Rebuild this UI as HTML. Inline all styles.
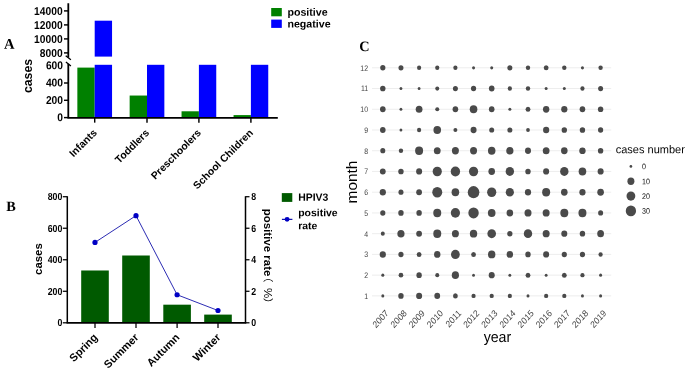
<!DOCTYPE html>
<html lang="en">
<head>
<meta charset="utf-8">
<title>HPIV3 cases figure</title>
<style>
html,body{margin:0;padding:0;background:#fff;}
body{width:685px;height:371px;overflow:hidden;}
svg{display:block;will-change:transform;}
text{font-family:"Liberation Sans", "Noto Sans CJK SC", sans-serif;fill:#000;}
.tk{font-size:11.4px;font-weight:bold;}
.tkb{font-size:10.2px;font-weight:bold;}
.xl{font-size:10.4px;font-weight:bold;}
.xlb{font-size:10.9px;font-weight:bold;}
.yl{font-size:12.8px;font-weight:bold;}
.ylb{font-size:10px;font-weight:bold;}
.lg{font-size:10.65px;font-weight:bold;}
.lgb{font-size:10.45px;font-weight:bold;}
.pl{font-family:"Liberation Serif", serif;font-size:14.6px;font-weight:bold;}
.plb{font-family:"Liberation Serif", serif;font-size:14.3px;font-weight:bold;}
.ct{font-size:8.0px;fill:#444;}
.ct2{font-size:8.1px;fill:#111;}
.cx{font-size:8.4px;fill:#444;}
.ca{font-size:15px;fill:#000;}
.cl{font-size:11.4px;fill:#000;}
</style>
</head>
<body>
<svg width="685" height="371" viewBox="0 0 685 371">
<rect width="685" height="371" fill="#fff"/>
<g id="panelA">
<rect x="77.35" y="67.60" width="17.35" height="50.00" fill="#008000"/>
<rect x="94.70" y="64.80" width="17.35" height="52.80" fill="#0000ff"/>
<rect x="129.65" y="95.54" width="17.35" height="22.06" fill="#008000"/>
<rect x="147.00" y="64.80" width="17.35" height="52.80" fill="#0000ff"/>
<rect x="181.55" y="111.29" width="17.35" height="6.31" fill="#008000"/>
<rect x="198.90" y="64.80" width="17.35" height="52.80" fill="#0000ff"/>
<rect x="233.55" y="115.09" width="17.35" height="2.51" fill="#008000"/>
<rect x="250.90" y="64.80" width="17.35" height="52.80" fill="#0000ff"/>
<rect x="94.70" y="20.70" width="17.35" height="35.90" fill="#0000ff"/>
<path d="M68.3 3.2V57.6 M68.3 63.8V117.85 M67.39999999999999 117.85H277.8" stroke="#000" stroke-width="1.8" fill="none"/>
<path d="M65.7 55.7L70.9 59.8 M65.9 61.9L70.9 66.0" stroke="#000" stroke-width="1.3" fill="none"/>
<path d="M64.00 10.90H68.3" stroke="#000" stroke-width="1.45"/>
<text transform="translate(62.60 15.10) rotate(0.03) scale(0.9 1.0)" text-anchor="end" class="tk">14000</text>
<path d="M64.00 24.90H68.3" stroke="#000" stroke-width="1.45"/>
<text transform="translate(62.60 29.10) rotate(0.03) scale(0.9 1.0)" text-anchor="end" class="tk">12000</text>
<path d="M64.00 38.90H68.3" stroke="#000" stroke-width="1.45"/>
<text transform="translate(62.60 43.10) rotate(0.03) scale(0.9 1.0)" text-anchor="end" class="tk">10000</text>
<path d="M64.00 52.90H68.3" stroke="#000" stroke-width="1.45"/>
<text transform="translate(62.60 57.10) rotate(0.03) scale(0.9 1.0)" text-anchor="end" class="tk">8000</text>
<text transform="translate(63.00 69.30) rotate(0.03) scale(0.9 1.0)" text-anchor="end" class="tk">600</text>
<path d="M64.00 83.00H68.3" stroke="#000" stroke-width="1.45"/>
<text transform="translate(63.00 86.60) rotate(0.03) scale(0.9 1.0)" text-anchor="end" class="tk">400</text>
<path d="M64.00 100.30H68.3" stroke="#000" stroke-width="1.45"/>
<text transform="translate(63.00 103.90) rotate(0.03) scale(0.9 1.0)" text-anchor="end" class="tk">200</text>
<path d="M64.00 117.60H68.3" stroke="#000" stroke-width="1.45"/>
<text transform="translate(63.00 121.20) rotate(0.03) scale(0.9 1.0)" text-anchor="end" class="tk">0</text>
<path d="M94.7 117.85V122.64999999999999" stroke="#000" stroke-width="1.45"/>
<path d="M147.0 117.85V122.64999999999999" stroke="#000" stroke-width="1.45"/>
<path d="M198.9 117.85V122.64999999999999" stroke="#000" stroke-width="1.45"/>
<path d="M250.9 117.85V122.64999999999999" stroke="#000" stroke-width="1.45"/>
<text transform="translate(97.50 133.50) rotate(-45)" text-anchor="end" class="xl">Infants</text>
<text transform="translate(149.80 133.50) rotate(-45)" text-anchor="end" class="xl">Toddlers</text>
<text transform="translate(201.70 133.50) rotate(-45)" text-anchor="end" class="xl">Preschoolers</text>
<text transform="translate(253.70 133.50) rotate(-45)" text-anchor="end" class="xl">School Children</text>
<text transform="translate(31.70 76.00) rotate(-90) scale(0.96 1.0)" text-anchor="middle" class="yl">cases</text>
<text transform="translate(3.90 48.80) rotate(0.03)" class="pl">A</text>
<rect x="271.2" y="8" width="10.6" height="8.3" fill="#008000"/>
<rect x="271.2" y="19.6" width="10.6" height="8.3" fill="#0000ff"/>
<text transform="translate(287.40 15.80) rotate(0.03)" class="lg">positive</text>
<text transform="translate(287.40 27.40) rotate(0.03)" class="lg">negative</text>
</g>
<g id="panelB">
<rect x="81.20" y="270.48" width="27.6" height="52.32" fill="#005a00"/>
<rect x="122.20" y="255.50" width="27.6" height="67.30" fill="#005a00"/>
<rect x="163.30" y="304.68" width="27.6" height="18.12" fill="#005a00"/>
<rect x="204.20" y="314.60" width="27.6" height="8.20" fill="#005a00"/>
<path d="M67.3 196.2V322.8 M245.5 196.2V322.8" stroke="#000" stroke-width="1.5" fill="none"/>
<path d="M66.55 322.8H246.25" stroke="#000" stroke-width="1.8" fill="none"/>
<path d="M62.8 196.72H67.3" stroke="#000" stroke-width="1.25"/>
<text transform="translate(62.30 200.32) rotate(0.03) scale(0.86 1.0)" text-anchor="end" class="tkb">800</text>
<path d="M62.8 228.24H67.3" stroke="#000" stroke-width="1.25"/>
<text transform="translate(62.30 231.84) rotate(0.03) scale(0.86 1.0)" text-anchor="end" class="tkb">600</text>
<path d="M62.8 259.76H67.3" stroke="#000" stroke-width="1.25"/>
<text transform="translate(62.30 263.36) rotate(0.03) scale(0.86 1.0)" text-anchor="end" class="tkb">400</text>
<path d="M62.8 291.28H67.3" stroke="#000" stroke-width="1.25"/>
<text transform="translate(62.30 294.88) rotate(0.03) scale(0.86 1.0)" text-anchor="end" class="tkb">200</text>
<path d="M62.8 322.80H67.3" stroke="#000" stroke-width="1.25"/>
<text transform="translate(62.30 326.40) rotate(0.03) scale(0.86 1.0)" text-anchor="end" class="tkb">0</text>
<path d="M245.5 196.72H249.5" stroke="#000" stroke-width="1.25"/>
<text transform="translate(251.30 200.32) rotate(0.03) scale(0.86 1.0)" class="tkb">8</text>
<path d="M245.5 228.24H249.5" stroke="#000" stroke-width="1.25"/>
<text transform="translate(251.30 231.84) rotate(0.03) scale(0.86 1.0)" class="tkb">6</text>
<path d="M245.5 259.76H249.5" stroke="#000" stroke-width="1.25"/>
<text transform="translate(251.30 263.36) rotate(0.03) scale(0.86 1.0)" class="tkb">4</text>
<path d="M245.5 291.28H249.5" stroke="#000" stroke-width="1.25"/>
<text transform="translate(251.30 294.88) rotate(0.03) scale(0.86 1.0)" class="tkb">2</text>
<path d="M245.5 322.80H249.5" stroke="#000" stroke-width="1.25"/>
<text transform="translate(251.30 326.40) rotate(0.03) scale(0.86 1.0)" class="tkb">0</text>
<path d="M95.0 322.8V327.90000000000003" stroke="#000" stroke-width="1.25"/>
<path d="M136.0 322.8V327.90000000000003" stroke="#000" stroke-width="1.25"/>
<path d="M177.1 322.8V327.90000000000003" stroke="#000" stroke-width="1.25"/>
<path d="M218.0 322.8V327.90000000000003" stroke="#000" stroke-width="1.25"/>
<polyline points="95.00,242.42 136.00,215.63 177.10,294.75 218.00,310.51" fill="none" stroke="#1414aa" stroke-width="0.9"/>
<circle cx="95.00" cy="242.42" r="2.6" fill="#0000c4"/>
<circle cx="136.00" cy="215.63" r="2.6" fill="#0000c4"/>
<circle cx="177.10" cy="294.75" r="2.6" fill="#0000c4"/>
<circle cx="218.00" cy="310.51" r="2.6" fill="#0000c4"/>
<text transform="translate(98.20 338.10) rotate(-45)" text-anchor="end" class="xlb">Spring</text>
<text transform="translate(139.20 338.10) rotate(-45)" text-anchor="end" class="xlb">Summer</text>
<text transform="translate(180.30 338.10) rotate(-45)" text-anchor="end" class="xlb">Autumn</text>
<text transform="translate(221.20 338.10) rotate(-45)" text-anchor="end" class="xlb">Winter</text>
<text transform="translate(42.20 259.10) rotate(-90) scale(1.14 1.0)" text-anchor="middle" class="ylb">cases</text>
<text transform="translate(263.9 208.8) rotate(90) scale(1.148 1)" class="ylb"><tspan x="0">positive rate</tspan><tspan x="54.2" font-weight="normal">（</tspan><tspan x="69.05" font-weight="normal">%</tspan><tspan x="77.55" font-weight="normal">）</tspan></text>
<text transform="translate(6.30 211.00) rotate(0.03)" class="plb">B</text>
<rect x="281.8" y="193.1" width="10.5" height="8.8" fill="#005a00"/>
<text transform="translate(298.20 200.80) rotate(0.03)" class="lgb">HPIV3</text>
<path d="M281.9 219.4H292.4" stroke="#1414aa" stroke-width="1.25"/>
<circle cx="287.1" cy="219.35" r="2.45" fill="#0000c4"/>
<text transform="translate(298.20 216.20) rotate(0.03)" class="lgb">positive</text>
<text transform="translate(298.20 229.20) rotate(0.03)" class="lgb">rate</text>
</g>
<g id="panelC">
<path d="M372 67.80H611.2" stroke="#ebebeb" stroke-width="0.9"/>
<text transform="translate(368.10 70.75) rotate(0.03) scale(0.87 1.0)" text-anchor="end" class="ct">12</text>
<path d="M372 88.53H611.2" stroke="#ebebeb" stroke-width="0.9"/>
<text transform="translate(368.10 91.48) rotate(0.03) scale(0.87 1.0)" text-anchor="end" class="ct">11</text>
<path d="M372 109.27H611.2" stroke="#ebebeb" stroke-width="0.9"/>
<text transform="translate(368.10 112.22) rotate(0.03) scale(0.87 1.0)" text-anchor="end" class="ct">10</text>
<path d="M372 130.00H611.2" stroke="#ebebeb" stroke-width="0.9"/>
<text transform="translate(368.10 132.95) rotate(0.03) scale(0.87 1.0)" text-anchor="end" class="ct">9</text>
<path d="M372 150.74H611.2" stroke="#ebebeb" stroke-width="0.9"/>
<text transform="translate(368.10 153.69) rotate(0.03) scale(0.87 1.0)" text-anchor="end" class="ct">8</text>
<path d="M372 171.47H611.2" stroke="#ebebeb" stroke-width="0.9"/>
<text transform="translate(368.10 174.42) rotate(0.03) scale(0.87 1.0)" text-anchor="end" class="ct">7</text>
<path d="M372 192.21H611.2" stroke="#ebebeb" stroke-width="0.9"/>
<text transform="translate(368.10 195.16) rotate(0.03) scale(0.87 1.0)" text-anchor="end" class="ct">6</text>
<path d="M372 212.94H611.2" stroke="#ebebeb" stroke-width="0.9"/>
<text transform="translate(368.10 215.89) rotate(0.03) scale(0.87 1.0)" text-anchor="end" class="ct">5</text>
<path d="M372 233.68H611.2" stroke="#ebebeb" stroke-width="0.9"/>
<text transform="translate(368.10 236.63) rotate(0.03) scale(0.87 1.0)" text-anchor="end" class="ct">4</text>
<path d="M372 254.42H611.2" stroke="#ebebeb" stroke-width="0.9"/>
<text transform="translate(368.10 257.37) rotate(0.03) scale(0.87 1.0)" text-anchor="end" class="ct">3</text>
<path d="M372 275.15H611.2" stroke="#ebebeb" stroke-width="0.9"/>
<text transform="translate(368.10 278.10) rotate(0.03) scale(0.87 1.0)" text-anchor="end" class="ct">2</text>
<path d="M372 295.88H611.2" stroke="#ebebeb" stroke-width="0.9"/>
<text transform="translate(368.10 298.83) rotate(0.03) scale(0.87 1.0)" text-anchor="end" class="ct">1</text>
<ellipse cx="382.80" cy="67.80" rx="2.60" ry="2.73" fill="#4a4a4a"/>
<ellipse cx="400.95" cy="67.80" rx="2.50" ry="2.62" fill="#4a4a4a"/>
<ellipse cx="419.10" cy="67.80" rx="2.10" ry="2.21" fill="#4a4a4a"/>
<ellipse cx="437.25" cy="67.80" rx="2.10" ry="2.21" fill="#4a4a4a"/>
<ellipse cx="455.40" cy="67.80" rx="2.10" ry="2.21" fill="#4a4a4a"/>
<ellipse cx="473.55" cy="67.80" rx="1.50" ry="1.58" fill="#4a4a4a"/>
<ellipse cx="491.70" cy="67.80" rx="1.50" ry="1.58" fill="#4a4a4a"/>
<ellipse cx="509.85" cy="67.80" rx="2.50" ry="2.62" fill="#4a4a4a"/>
<ellipse cx="528.00" cy="67.80" rx="2.20" ry="2.31" fill="#4a4a4a"/>
<ellipse cx="546.15" cy="67.80" rx="2.40" ry="2.52" fill="#4a4a4a"/>
<ellipse cx="564.30" cy="67.80" rx="2.20" ry="2.31" fill="#4a4a4a"/>
<ellipse cx="582.45" cy="67.80" rx="1.55" ry="1.63" fill="#4a4a4a"/>
<ellipse cx="600.60" cy="67.80" rx="2.20" ry="2.31" fill="#4a4a4a"/>
<ellipse cx="382.80" cy="88.53" rx="2.70" ry="2.84" fill="#4a4a4a"/>
<ellipse cx="400.95" cy="88.53" rx="1.43" ry="1.50" fill="#4a4a4a"/>
<ellipse cx="419.10" cy="88.53" rx="1.43" ry="1.50" fill="#4a4a4a"/>
<ellipse cx="437.25" cy="88.53" rx="2.00" ry="2.10" fill="#4a4a4a"/>
<ellipse cx="455.40" cy="88.53" rx="2.50" ry="2.62" fill="#4a4a4a"/>
<ellipse cx="473.55" cy="88.53" rx="2.60" ry="2.73" fill="#4a4a4a"/>
<ellipse cx="491.70" cy="88.53" rx="2.80" ry="2.94" fill="#4a4a4a"/>
<ellipse cx="509.85" cy="88.53" rx="2.10" ry="2.21" fill="#4a4a4a"/>
<ellipse cx="528.00" cy="88.53" rx="2.20" ry="2.31" fill="#4a4a4a"/>
<ellipse cx="546.15" cy="88.53" rx="1.50" ry="1.58" fill="#4a4a4a"/>
<ellipse cx="564.30" cy="88.53" rx="1.50" ry="1.58" fill="#4a4a4a"/>
<ellipse cx="582.45" cy="88.53" rx="2.10" ry="2.21" fill="#4a4a4a"/>
<ellipse cx="600.60" cy="88.53" rx="2.50" ry="2.62" fill="#4a4a4a"/>
<ellipse cx="382.80" cy="109.27" rx="2.80" ry="2.94" fill="#4a4a4a"/>
<ellipse cx="400.95" cy="109.27" rx="1.43" ry="1.50" fill="#4a4a4a"/>
<ellipse cx="419.10" cy="109.27" rx="3.40" ry="3.57" fill="#4a4a4a"/>
<ellipse cx="437.25" cy="109.27" rx="2.00" ry="2.10" fill="#4a4a4a"/>
<ellipse cx="455.40" cy="109.27" rx="2.80" ry="2.94" fill="#4a4a4a"/>
<ellipse cx="473.55" cy="109.27" rx="3.80" ry="3.99" fill="#4a4a4a"/>
<ellipse cx="491.70" cy="109.27" rx="2.80" ry="2.94" fill="#4a4a4a"/>
<ellipse cx="509.85" cy="109.27" rx="1.50" ry="1.58" fill="#4a4a4a"/>
<ellipse cx="528.00" cy="109.27" rx="2.40" ry="2.52" fill="#4a4a4a"/>
<ellipse cx="546.15" cy="109.27" rx="3.20" ry="3.36" fill="#4a4a4a"/>
<ellipse cx="564.30" cy="109.27" rx="3.10" ry="3.26" fill="#4a4a4a"/>
<ellipse cx="582.45" cy="109.27" rx="2.80" ry="2.94" fill="#4a4a4a"/>
<ellipse cx="600.60" cy="109.27" rx="2.70" ry="2.84" fill="#4a4a4a"/>
<ellipse cx="382.80" cy="130.00" rx="2.80" ry="2.94" fill="#4a4a4a"/>
<ellipse cx="400.95" cy="130.00" rx="1.43" ry="1.50" fill="#4a4a4a"/>
<ellipse cx="419.10" cy="130.00" rx="2.10" ry="2.21" fill="#4a4a4a"/>
<ellipse cx="437.25" cy="130.00" rx="3.80" ry="3.99" fill="#4a4a4a"/>
<ellipse cx="455.40" cy="130.00" rx="2.00" ry="2.10" fill="#4a4a4a"/>
<ellipse cx="473.55" cy="130.00" rx="3.00" ry="3.15" fill="#4a4a4a"/>
<ellipse cx="491.70" cy="130.00" rx="2.50" ry="2.62" fill="#4a4a4a"/>
<ellipse cx="509.85" cy="130.00" rx="2.50" ry="2.62" fill="#4a4a4a"/>
<ellipse cx="528.00" cy="130.00" rx="1.90" ry="1.99" fill="#4a4a4a"/>
<ellipse cx="546.15" cy="130.00" rx="3.10" ry="3.26" fill="#4a4a4a"/>
<ellipse cx="564.30" cy="130.00" rx="2.70" ry="2.84" fill="#4a4a4a"/>
<ellipse cx="582.45" cy="130.00" rx="2.70" ry="2.84" fill="#4a4a4a"/>
<ellipse cx="600.60" cy="130.00" rx="2.60" ry="2.73" fill="#4a4a4a"/>
<ellipse cx="382.80" cy="150.74" rx="2.50" ry="2.62" fill="#4a4a4a"/>
<ellipse cx="400.95" cy="150.74" rx="2.20" ry="2.31" fill="#4a4a4a"/>
<ellipse cx="419.10" cy="150.74" rx="4.00" ry="4.20" fill="#4a4a4a"/>
<ellipse cx="437.25" cy="150.74" rx="3.40" ry="3.57" fill="#4a4a4a"/>
<ellipse cx="455.40" cy="150.74" rx="3.50" ry="3.68" fill="#4a4a4a"/>
<ellipse cx="473.55" cy="150.74" rx="3.50" ry="3.68" fill="#4a4a4a"/>
<ellipse cx="491.70" cy="150.74" rx="3.75" ry="3.94" fill="#4a4a4a"/>
<ellipse cx="509.85" cy="150.74" rx="3.60" ry="3.78" fill="#4a4a4a"/>
<ellipse cx="528.00" cy="150.74" rx="3.00" ry="3.15" fill="#4a4a4a"/>
<ellipse cx="546.15" cy="150.74" rx="3.40" ry="3.57" fill="#4a4a4a"/>
<ellipse cx="564.30" cy="150.74" rx="3.30" ry="3.46" fill="#4a4a4a"/>
<ellipse cx="582.45" cy="150.74" rx="3.20" ry="3.36" fill="#4a4a4a"/>
<ellipse cx="600.60" cy="150.74" rx="2.70" ry="2.84" fill="#4a4a4a"/>
<ellipse cx="382.80" cy="171.47" rx="2.90" ry="3.04" fill="#4a4a4a"/>
<ellipse cx="400.95" cy="171.47" rx="2.70" ry="2.84" fill="#4a4a4a"/>
<ellipse cx="419.10" cy="171.47" rx="3.00" ry="3.15" fill="#4a4a4a"/>
<ellipse cx="437.25" cy="171.47" rx="4.60" ry="4.83" fill="#4a4a4a"/>
<ellipse cx="455.40" cy="171.47" rx="4.70" ry="4.94" fill="#4a4a4a"/>
<ellipse cx="473.55" cy="171.47" rx="4.60" ry="4.83" fill="#4a4a4a"/>
<ellipse cx="491.70" cy="171.47" rx="3.30" ry="3.46" fill="#4a4a4a"/>
<ellipse cx="509.85" cy="171.47" rx="4.20" ry="4.41" fill="#4a4a4a"/>
<ellipse cx="528.00" cy="171.47" rx="2.70" ry="2.84" fill="#4a4a4a"/>
<ellipse cx="546.15" cy="171.47" rx="3.00" ry="3.15" fill="#4a4a4a"/>
<ellipse cx="564.30" cy="171.47" rx="4.20" ry="4.41" fill="#4a4a4a"/>
<ellipse cx="582.45" cy="171.47" rx="3.80" ry="3.99" fill="#4a4a4a"/>
<ellipse cx="600.60" cy="171.47" rx="3.00" ry="3.15" fill="#4a4a4a"/>
<ellipse cx="382.80" cy="192.21" rx="3.10" ry="3.26" fill="#4a4a4a"/>
<ellipse cx="400.95" cy="192.21" rx="2.50" ry="2.62" fill="#4a4a4a"/>
<ellipse cx="419.10" cy="192.21" rx="2.90" ry="3.04" fill="#4a4a4a"/>
<ellipse cx="437.25" cy="192.21" rx="5.00" ry="5.25" fill="#4a4a4a"/>
<ellipse cx="455.40" cy="192.21" rx="3.80" ry="3.99" fill="#4a4a4a"/>
<ellipse cx="473.55" cy="192.21" rx="5.80" ry="6.09" fill="#4a4a4a"/>
<ellipse cx="491.70" cy="192.21" rx="4.60" ry="4.83" fill="#4a4a4a"/>
<ellipse cx="509.85" cy="192.21" rx="4.10" ry="4.30" fill="#4a4a4a"/>
<ellipse cx="528.00" cy="192.21" rx="3.10" ry="3.26" fill="#4a4a4a"/>
<ellipse cx="546.15" cy="192.21" rx="4.00" ry="4.20" fill="#4a4a4a"/>
<ellipse cx="564.30" cy="192.21" rx="3.30" ry="3.46" fill="#4a4a4a"/>
<ellipse cx="582.45" cy="192.21" rx="3.10" ry="3.26" fill="#4a4a4a"/>
<ellipse cx="600.60" cy="192.21" rx="3.30" ry="3.46" fill="#4a4a4a"/>
<ellipse cx="382.80" cy="212.94" rx="2.60" ry="2.73" fill="#4a4a4a"/>
<ellipse cx="400.95" cy="212.94" rx="2.70" ry="2.84" fill="#4a4a4a"/>
<ellipse cx="419.10" cy="212.94" rx="2.70" ry="2.84" fill="#4a4a4a"/>
<ellipse cx="437.25" cy="212.94" rx="4.00" ry="4.20" fill="#4a4a4a"/>
<ellipse cx="455.40" cy="212.94" rx="4.60" ry="4.83" fill="#4a4a4a"/>
<ellipse cx="473.55" cy="212.94" rx="5.20" ry="5.46" fill="#4a4a4a"/>
<ellipse cx="491.70" cy="212.94" rx="3.80" ry="3.99" fill="#4a4a4a"/>
<ellipse cx="509.85" cy="212.94" rx="3.30" ry="3.46" fill="#4a4a4a"/>
<ellipse cx="528.00" cy="212.94" rx="3.50" ry="3.68" fill="#4a4a4a"/>
<ellipse cx="546.15" cy="212.94" rx="3.50" ry="3.68" fill="#4a4a4a"/>
<ellipse cx="564.30" cy="212.94" rx="4.00" ry="4.20" fill="#4a4a4a"/>
<ellipse cx="582.45" cy="212.94" rx="4.00" ry="4.20" fill="#4a4a4a"/>
<ellipse cx="600.60" cy="212.94" rx="2.50" ry="2.62" fill="#4a4a4a"/>
<ellipse cx="382.80" cy="233.68" rx="2.00" ry="2.10" fill="#4a4a4a"/>
<ellipse cx="400.95" cy="233.68" rx="3.60" ry="3.78" fill="#4a4a4a"/>
<ellipse cx="419.10" cy="233.68" rx="2.90" ry="3.04" fill="#4a4a4a"/>
<ellipse cx="437.25" cy="233.68" rx="4.00" ry="4.20" fill="#4a4a4a"/>
<ellipse cx="455.40" cy="233.68" rx="3.50" ry="3.68" fill="#4a4a4a"/>
<ellipse cx="473.55" cy="233.68" rx="3.70" ry="3.89" fill="#4a4a4a"/>
<ellipse cx="491.70" cy="233.68" rx="4.30" ry="4.51" fill="#4a4a4a"/>
<ellipse cx="509.85" cy="233.68" rx="2.60" ry="2.73" fill="#4a4a4a"/>
<ellipse cx="528.00" cy="233.68" rx="4.20" ry="4.41" fill="#4a4a4a"/>
<ellipse cx="546.15" cy="233.68" rx="3.50" ry="3.68" fill="#4a4a4a"/>
<ellipse cx="564.30" cy="233.68" rx="3.00" ry="3.15" fill="#4a4a4a"/>
<ellipse cx="582.45" cy="233.68" rx="2.70" ry="2.84" fill="#4a4a4a"/>
<ellipse cx="600.60" cy="233.68" rx="3.40" ry="3.57" fill="#4a4a4a"/>
<ellipse cx="382.80" cy="254.42" rx="3.10" ry="3.26" fill="#4a4a4a"/>
<ellipse cx="400.95" cy="254.42" rx="2.60" ry="2.73" fill="#4a4a4a"/>
<ellipse cx="419.10" cy="254.42" rx="2.40" ry="2.52" fill="#4a4a4a"/>
<ellipse cx="437.25" cy="254.42" rx="3.20" ry="3.36" fill="#4a4a4a"/>
<ellipse cx="455.40" cy="254.42" rx="4.40" ry="4.62" fill="#4a4a4a"/>
<ellipse cx="473.55" cy="254.42" rx="2.40" ry="2.52" fill="#4a4a4a"/>
<ellipse cx="491.70" cy="254.42" rx="3.70" ry="3.89" fill="#4a4a4a"/>
<ellipse cx="509.85" cy="254.42" rx="3.20" ry="3.36" fill="#4a4a4a"/>
<ellipse cx="528.00" cy="254.42" rx="2.70" ry="2.84" fill="#4a4a4a"/>
<ellipse cx="546.15" cy="254.42" rx="3.00" ry="3.15" fill="#4a4a4a"/>
<ellipse cx="564.30" cy="254.42" rx="2.60" ry="2.73" fill="#4a4a4a"/>
<ellipse cx="582.45" cy="254.42" rx="2.60" ry="2.73" fill="#4a4a4a"/>
<ellipse cx="600.60" cy="254.42" rx="2.10" ry="2.21" fill="#4a4a4a"/>
<ellipse cx="382.80" cy="275.15" rx="1.50" ry="1.58" fill="#4a4a4a"/>
<ellipse cx="400.95" cy="275.15" rx="2.35" ry="2.47" fill="#4a4a4a"/>
<ellipse cx="419.10" cy="275.15" rx="2.70" ry="2.84" fill="#4a4a4a"/>
<ellipse cx="437.25" cy="275.15" rx="2.00" ry="2.10" fill="#4a4a4a"/>
<ellipse cx="455.40" cy="275.15" rx="3.60" ry="3.78" fill="#4a4a4a"/>
<ellipse cx="473.55" cy="275.15" rx="1.43" ry="1.50" fill="#4a4a4a"/>
<ellipse cx="491.70" cy="275.15" rx="3.00" ry="3.15" fill="#4a4a4a"/>
<ellipse cx="509.85" cy="275.15" rx="1.43" ry="1.50" fill="#4a4a4a"/>
<ellipse cx="528.00" cy="275.15" rx="2.40" ry="2.52" fill="#4a4a4a"/>
<ellipse cx="546.15" cy="275.15" rx="1.43" ry="1.50" fill="#4a4a4a"/>
<ellipse cx="564.30" cy="275.15" rx="2.40" ry="2.52" fill="#4a4a4a"/>
<ellipse cx="582.45" cy="275.15" rx="2.10" ry="2.21" fill="#4a4a4a"/>
<ellipse cx="600.60" cy="275.15" rx="1.50" ry="1.58" fill="#4a4a4a"/>
<ellipse cx="382.80" cy="295.88" rx="1.50" ry="1.58" fill="#4a4a4a"/>
<ellipse cx="400.95" cy="295.88" rx="2.70" ry="2.84" fill="#4a4a4a"/>
<ellipse cx="419.10" cy="295.88" rx="3.00" ry="3.15" fill="#4a4a4a"/>
<ellipse cx="437.25" cy="295.88" rx="2.90" ry="3.04" fill="#4a4a4a"/>
<ellipse cx="455.40" cy="295.88" rx="2.40" ry="2.52" fill="#4a4a4a"/>
<ellipse cx="473.55" cy="295.88" rx="2.10" ry="2.21" fill="#4a4a4a"/>
<ellipse cx="491.70" cy="295.88" rx="2.10" ry="2.21" fill="#4a4a4a"/>
<ellipse cx="509.85" cy="295.88" rx="2.10" ry="2.21" fill="#4a4a4a"/>
<ellipse cx="528.00" cy="295.88" rx="1.50" ry="1.58" fill="#4a4a4a"/>
<ellipse cx="546.15" cy="295.88" rx="2.10" ry="2.21" fill="#4a4a4a"/>
<ellipse cx="564.30" cy="295.88" rx="2.10" ry="2.21" fill="#4a4a4a"/>
<ellipse cx="582.45" cy="295.88" rx="1.50" ry="1.58" fill="#4a4a4a"/>
<ellipse cx="600.60" cy="295.88" rx="1.50" ry="1.58" fill="#4a4a4a"/>
<text transform="translate(389.10 313.7) scale(1 1.12) rotate(-45)" text-anchor="end" class="cx">2007</text>
<text transform="translate(407.25 313.7) scale(1 1.12) rotate(-45)" text-anchor="end" class="cx">2008</text>
<text transform="translate(425.40 313.7) scale(1 1.12) rotate(-45)" text-anchor="end" class="cx">2009</text>
<text transform="translate(443.55 313.7) scale(1 1.12) rotate(-45)" text-anchor="end" class="cx">2010</text>
<text transform="translate(461.70 313.7) scale(1 1.12) rotate(-45)" text-anchor="end" class="cx">2011</text>
<text transform="translate(479.85 313.7) scale(1 1.12) rotate(-45)" text-anchor="end" class="cx">2012</text>
<text transform="translate(498.00 313.7) scale(1 1.12) rotate(-45)" text-anchor="end" class="cx">2013</text>
<text transform="translate(516.15 313.7) scale(1 1.12) rotate(-45)" text-anchor="end" class="cx">2014</text>
<text transform="translate(534.30 313.7) scale(1 1.12) rotate(-45)" text-anchor="end" class="cx">2015</text>
<text transform="translate(552.45 313.7) scale(1 1.12) rotate(-45)" text-anchor="end" class="cx">2016</text>
<text transform="translate(570.60 313.7) scale(1 1.12) rotate(-45)" text-anchor="end" class="cx">2017</text>
<text transform="translate(588.75 313.7) scale(1 1.12) rotate(-45)" text-anchor="end" class="cx">2018</text>
<text transform="translate(606.90 313.7) scale(1 1.12) rotate(-45)" text-anchor="end" class="cx">2019</text>
<text transform="translate(356.60 182.00) rotate(-90) scale(1.03 1.0)" text-anchor="middle" class="ca">month</text>
<text transform="translate(497.40 342.00) rotate(0.03) scale(0.945 1.0)" text-anchor="middle" class="ca">year</text>
<text transform="translate(359.30 51.10) rotate(0.03)" class="plb">C</text>
<text transform="translate(615.70 153.30) rotate(0.03) scale(0.968 1.0)" class="cl">cases number</text>
<ellipse cx="630.9" cy="166.40" rx="1.35" ry="1.42" fill="#4a4a4a"/>
<text transform="translate(642.00 169.30) rotate(0.03) scale(0.88 1.0)" class="ct2">0</text>
<ellipse cx="630.9" cy="181.23" rx="3.50" ry="3.68" fill="#4a4a4a"/>
<text transform="translate(642.00 184.13) rotate(0.03) scale(0.88 1.0)" class="ct2">10</text>
<ellipse cx="630.9" cy="196.06" rx="4.40" ry="4.62" fill="#4a4a4a"/>
<text transform="translate(642.00 198.96) rotate(0.03) scale(0.88 1.0)" class="ct2">20</text>
<ellipse cx="630.9" cy="210.89" rx="5.15" ry="5.41" fill="#4a4a4a"/>
<text transform="translate(642.00 213.79) rotate(0.03) scale(0.88 1.0)" class="ct2">30</text>
</g>
</svg>
</body>
</html>
